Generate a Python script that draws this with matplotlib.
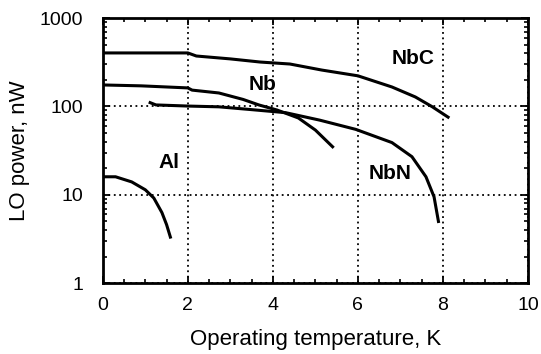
import matplotlib
matplotlib.use("Agg")
import matplotlib.pyplot as plt
from matplotlib.ticker import MultipleLocator, LogLocator, NullFormatter, FixedFormatter, FixedLocator

plt.rcParams["font.family"] = ["Liberation Sans", "DejaVu Sans"]

# Data
nbc_t = [0.0, 2.0, 2.2, 3.0, 3.7, 4.4, 5.15, 6.0, 6.8, 7.35, 7.75, 8.15]
nbc_p = [403, 403, 372, 345, 318, 302, 258, 222, 166, 128, 99, 74]

nb_t = [0.0, 0.9, 2.0, 2.1, 2.73, 3.3, 3.67, 4.1, 4.6, 5.0, 5.43]
nb_p = [175, 171, 162, 153, 142, 120, 104, 91, 74, 54, 34]

nbn_t = [1.08, 1.25, 2.0, 2.73, 3.5, 4.3, 5.1, 5.95, 6.8, 7.27, 7.6, 7.79, 7.9]
nbn_p = [112, 104, 101, 99, 92, 85, 70, 55, 39, 27, 16, 9.5, 4.8]

al_t = [0.0, 0.3, 0.68, 1.0, 1.2, 1.39, 1.5, 1.6]
al_p = [16, 16, 14, 11.4, 9.2, 6.3, 4.6, 3.2]

y_ticks = [1, 10, 100, 1000]
y_labels = ["1", "10", "100", "1000"]

labels = [("NbC", 7.3, 350), ("Nb", 3.75, 175), ("NbN", 6.75, 17.5), ("Al", 1.55, 23)]

fig = plt.figure(figsize=(5.41, 3.54), dpi=100)
ax = fig.add_axes([0.190, 0.200, 0.786, 0.749])

for t, p in [(nbc_t, nbc_p), (nb_t, nb_p), (nbn_t, nbn_p), (al_t, al_p)]:
    ax.plot(t, p, color="black", lw=2.2, solid_capstyle="butt")

ax.set_yscale("log")
ax.set_xlim(0, 10)
ax.set_ylim(1, 1000)

ax.xaxis.set_major_locator(MultipleLocator(2))
ax.xaxis.set_minor_locator(MultipleLocator(0.5))
ax.yaxis.set_major_locator(FixedLocator(y_ticks))
ax.yaxis.set_major_formatter(FixedFormatter(y_labels))
ax.yaxis.set_minor_locator(LogLocator(base=10, subs=range(2, 10)))
ax.yaxis.set_minor_formatter(NullFormatter())

ax.tick_params(which="both", direction="in", top=True, right=True, color="black", labelsize=14)
ax.tick_params(which="major", length=5, width=1.3)
ax.tick_params(which="minor", length=3, width=1.2)
ax.tick_params(axis="y", which="major", pad=14)
ax.tick_params(axis="x", which="major", pad=10)

ax.grid(True, which="major", color="black", linestyle=(0, (1, 2)), lw=1.3)
for s in ax.spines.values():
    s.set_linewidth(2)

ax.set_xlabel("Operating temperature, K", fontsize=16, labelpad=11)
ax.set_ylabel("LO power, nW", fontsize=16, labelpad=7)

for name, x, y in labels:
    ax.text(x, y, name, fontsize=15, fontweight="bold", ha="center", va="center")

fig.savefig("out.png", dpi=100)
